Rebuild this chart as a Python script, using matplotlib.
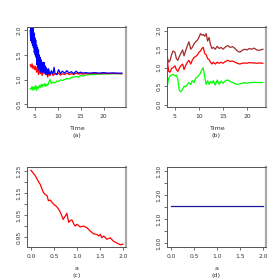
import matplotlib
matplotlib.use("Agg")
import matplotlib.pyplot as plt

# ---------------- data ----------------
# panel (a)
time_a = [4.0, 4.2, 4.4, 4.6, 4.8, 5.0, 5.2, 5.4, 5.6, 5.8, 6.0, 6.2, 6.4, 6.6, 6.8,
          7.0, 7.2, 7.4, 7.6, 7.8, 8.0, 8.3, 8.6, 9.0, 9.4, 9.8, 10.2, 10.6, 11.0,
          11.5, 12.0, 12.5, 13.0, 13.5, 14.0, 14.5, 15.0, 15.5, 16.0, 17.0, 18.0,
          19.0, 20.0, 21.0, 22.0, 23.0, 24.0]
red_a = [1.3, 1.25, 1.32, 1.22, 1.28, 1.2, 1.27, 1.15, 1.25, 1.1, 1.22, 1.12, 1.2,
         1.08, 1.18, 1.12, 1.2, 1.1, 1.15, 1.05, 1.12, 1.08, 1.14, 1.08, 1.12, 1.1,
         1.13, 1.09, 1.12, 1.1, 1.13, 1.1, 1.12, 1.1, 1.13, 1.11, 1.12, 1.11, 1.12,
         1.12, 1.125, 1.12, 1.125, 1.12, 1.125, 1.12, 1.12]
green_a = [0.82, 0.8, 0.86, 0.78, 0.85, 0.8, 0.88, 0.78, 0.85, 0.82, 0.88, 0.84, 0.9,
           0.85, 0.9, 0.87, 0.92, 0.86, 0.9, 0.88, 0.93, 1.0, 0.92, 0.95, 0.93, 0.97,
           0.96, 0.99, 0.98, 1.0, 1.02, 1.01, 1.04, 1.05, 1.06, 1.05, 1.08, 1.07,
           1.09, 1.1, 1.1, 1.11, 1.11, 1.115, 1.115, 1.12, 1.12]
time_blue = [4.0, 4.1, 4.2, 4.3, 4.4, 4.5, 4.6, 4.7, 4.8, 4.9, 5.0, 5.1, 5.2, 5.3,
             5.4, 5.5, 5.6, 5.7, 5.8, 5.9, 6.0, 6.1, 6.2, 6.3, 6.4, 6.5, 6.6, 6.7,
             6.8, 6.9, 7.0, 7.1, 7.2, 7.3, 7.4, 7.5, 7.6, 7.7, 7.8, 7.9, 8.0, 8.3,
             8.6, 9.0, 9.2, 9.4, 9.8, 10.2, 10.6, 11.0, 11.5, 12.0, 12.5, 13.0, 13.5,
             14.0, 14.5, 15.0, 15.5, 16.0, 17.0, 18.0, 19.0, 20.0, 21.0, 22.0, 23.0,
             24.0]
blue_a = [2.0, 1.8, 2.05, 1.75, 2.0, 1.7, 2.05, 1.65, 1.95, 1.55, 1.85, 1.5, 1.8,
          1.45, 1.7, 1.3, 1.65, 1.25, 1.6, 1.2, 1.5, 1.25, 1.45, 1.15, 1.4, 1.2,
          1.35, 1.15, 1.3, 1.18, 1.35, 1.15, 1.28, 1.12, 1.25, 1.15, 1.22, 1.1,
          1.2, 1.12, 1.22, 1.1, 1.18, 1.12, 1.25, 1.13, 1.1, 1.2, 1.12, 1.17, 1.13,
          1.18, 1.13, 1.16, 1.12, 1.17, 1.13, 1.15, 1.13, 1.14, 1.13, 1.14, 1.13,
          1.14, 1.13, 1.135, 1.13, 1.13]

# panel (b)
time_b = [3.4, 3.7, 4.0, 4.3, 4.6, 5.0, 5.3, 5.6, 5.9, 6.2, 6.6, 6.9, 7.2, 7.6, 7.9,
          8.3, 8.6, 9.0, 9.3, 9.7, 10.0, 10.3, 10.6, 10.9, 11.2, 11.5, 11.8, 12.1,
          12.4, 12.7, 13.0, 13.4, 13.8, 14.2, 14.6, 15.0, 15.5, 16.0, 16.5, 17.0,
          17.5, 18.0, 18.5, 19.0, 19.5, 20.0, 20.5, 21.0, 21.5, 22.0, 22.5, 23.3]
brown_b = [1.28, 1.15, 1.2, 1.35, 1.45, 1.42, 1.25, 1.2, 1.3, 1.38, 1.48, 1.32, 1.45,
           1.6, 1.7, 1.5, 1.55, 1.65, 1.7, 1.75, 1.82, 1.92, 1.88, 1.9, 1.85, 1.92,
           1.72, 1.82, 1.62, 1.52, 1.55, 1.5, 1.58, 1.52, 1.55, 1.5, 1.56, 1.6, 1.55,
           1.57, 1.52, 1.45, 1.42, 1.47, 1.5, 1.48, 1.52, 1.5, 1.53, 1.48, 1.47, 1.5]
red_b = [1.2, 0.9, 0.88, 0.98, 1.0, 1.05, 0.95, 0.9, 0.98, 1.05, 1.1, 0.95, 1.05,
         1.15, 1.2, 1.1, 1.2, 1.28, 1.3, 1.35, 1.42, 1.45, 1.52, 1.55, 1.38, 1.35,
         1.25, 1.22, 1.15, 1.1, 1.15, 1.1, 1.15, 1.12, 1.15, 1.12, 1.17, 1.2, 1.17,
         1.18, 1.15, 1.12, 1.1, 1.12, 1.13, 1.12, 1.14, 1.13, 1.13, 1.12, 1.13, 1.12]
green_b = [0.5, 0.72, 0.78, 0.8, 0.82, 0.78, 0.8, 0.7, 0.4, 0.35, 0.42, 0.5, 0.48,
           0.55, 0.6, 0.55, 0.65, 0.6, 0.72, 0.75, 0.8, 0.85, 0.95, 1.0, 0.75, 0.55,
           0.65, 0.55, 0.63, 0.58, 0.65, 0.53, 0.67, 0.55, 0.64, 0.58, 0.65, 0.67,
           0.63, 0.6, 0.57, 0.55, 0.56, 0.58, 0.6, 0.58, 0.6, 0.6, 0.61, 0.6, 0.6, 0.6]

# panel (c)
a_c = [0.0, 0.09, 0.17, 0.2, 0.27, 0.31, 0.35, 0.38, 0.42, 0.46, 0.49, 0.56, 0.6,
       0.64, 0.67, 0.7, 0.75, 0.78, 0.82, 0.855, 0.89, 0.93, 0.96, 1.0, 1.07, 1.14,
       1.22, 1.29, 1.36, 1.43, 1.47, 1.51, 1.54, 1.58, 1.65, 1.72, 1.8, 1.87, 1.94,
       2.0]
val_c = [1.253, 1.23, 1.2, 1.19, 1.153, 1.143, 1.138, 1.115, 1.118, 1.107, 1.1,
         1.088, 1.077, 1.062, 1.047, 1.03, 1.047, 1.058, 1.017, 1.025, 1.028, 1.01,
         1.0, 1.008, 0.996, 1.0, 0.992, 0.977, 0.965, 0.962, 0.955, 0.962, 0.947,
         0.955, 0.94, 0.947, 0.93, 0.923, 0.915, 0.918]

# panel (d)
a_d = [0.0, 2.0]
val_d = [1.155, 1.155]

TXT = "#333333"
plt.rcParams["font.family"] = ["DejaVu Sans"]

fig = plt.figure(figsize=(2.8, 2.8), dpi=100)
W = H = 280.0


def make_ax(l, t, r, b):
    return fig.add_axes([l / W, 1 - b / H, (r - l) / W, (b - t) / H])


def style(ax):
    for s in ["left", "top", "bottom"]:
        ax.spines[s].set_color("#555555")
        ax.spines[s].set_linewidth(0.7)
    ax.spines["right"].set_color("#a8a8a8")
    ax.spines["right"].set_linewidth(1.6)
    ax.tick_params(axis="both", direction="out", length=2.3, width=0.6,
                   colors="#555555", labelcolor=TXT, labelsize=4.3)
    ax.tick_params(axis="x", pad=2.6)
    ax.tick_params(axis="y", pad=1.6)
    for lab in ax.get_yticklabels():
        lab.set_rotation(90)
        lab.set_va("center")


LW = 0.9

# (a)
ax = make_ax(27, 27, 126, 107)
ax.plot(time_a, green_a, color="#00ff00", lw=LW)
ax.plot(time_a, red_a, color="#ff0000", lw=LW)
ax.plot(time_blue, blue_a, color="#0000ff", lw=LW)
ax.set_xlim(3.3, 24.9)
ax.set_ylim(0.44, 2.07)
ax.set_xticks([5, 10, 15, 20])
ax.set_yticks([0.5, 1.0, 1.5, 2.0])
ax.set_yticklabels(["0.5", "1.0", "1.5", "2.0"])
style(ax)

# (b)
ax = make_ax(167, 27, 266, 107)
ax.plot(time_b, brown_b, color="#a52a2a", lw=LW)
ax.plot(time_b, red_b, color="#ff0000", lw=LW)
ax.plot(time_b, green_b, color="#00ff00", lw=LW)
ax.set_xlim(3.35, 23.95)
ax.set_ylim(-0.06, 2.1)
ax.set_xticks([5, 10, 15, 20])
ax.set_yticks([0.0, 0.5, 1.0, 1.5, 2.0])
ax.set_yticklabels(["0.0", "0.5", "1.0", "1.5", "2.0"])
style(ax)

# (c)
ax = make_ax(27, 167, 126, 247)
ax.plot(a_c, val_c, color="#ff0000", lw=LW)
ax.set_xlim(-0.085, 2.065)
ax.set_ylim(0.905, 1.268)
ax.set_xticks([0.0, 0.5, 1.0, 1.5, 2.0])
ax.set_xticklabels(["0.0", "0.5", "1.0", "1.5", "2.0"])
ax.set_yticks([0.95, 1.0, 1.05, 1.1, 1.15, 1.2, 1.25])
ax.set_yticklabels(["0.95", "", "1.05", "", "1.15", "", "1.25"])
style(ax)

# (d)
ax = make_ax(167, 167, 266, 247)
ax.plot(a_d, val_d, color="#1a1aa0", lw=LW)
ax.set_xlim(-0.085, 2.065)
ax.set_ylim(0.983, 1.317)
ax.set_xticks([0.0, 0.5, 1.0, 1.5, 2.0])
ax.set_xticklabels(["0.0", "0.5", "1.0", "1.5", "2.0"])
ax.set_yticks([1.0, 1.05, 1.1, 1.15, 1.2, 1.25, 1.3])
ax.set_yticklabels(["1.00", "", "1.10", "", "1.20", "", "1.30"])
style(ax)

FS = 4.6
for cx, lab, sub, y1, y2 in [(76.5, "Time", "(a)", 129, 136),
                            (216.5, "Time", "(b)", 129, 136),
                            (76.5, "a", "(c)", 269, 276),
                            (216.5, "a", "(d)", 269, 276)]:
    fig.text(cx / W, 1 - y1 / H, lab, ha="center", va="center", fontsize=FS, color=TXT)
    fig.text(cx / W, 1 - y2 / H, sub, ha="center", va="center", fontsize=FS, color=TXT)

fig.savefig("out.png", dpi=100)
